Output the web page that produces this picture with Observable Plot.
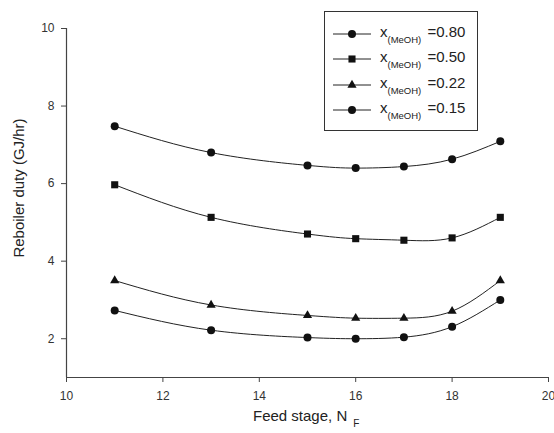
<!DOCTYPE html>
<html>
<head>
<meta charset="utf-8">
<script src="https://cdn.jsdelivr.net/npm/d3@7"></script>
<script src="https://cdn.jsdelivr.net/npm/@observablehq/plot@0.6"></script>
<style>
  html, body { margin: 0; padding: 0; background: #fff; }
  #wrap { position: relative; width: 554px; height: 433px; font-family: Arial, "Liberation Sans", sans-serif; color: #222; }
  #wrap > svg { position: absolute; left: 0; top: 0; }
  .ytitle { position: absolute; left: 18px; top: 188px; transform: translate(-50%, -50%) rotate(-90deg); font-size: 15px; white-space: nowrap; }
  .xtitle { position: absolute; left: 253px; top: 407px; font-size: 15px; white-space: nowrap; }
  .xtitle sub { font-size: 10px; position: relative; top: 6px; left: 6px; vertical-align: baseline; }
  .legend { position: absolute; left: 324px; top: 11px; width: 154px; height: 120px; border: 1px solid #333; background: #fff; box-sizing: border-box; }
  .legend .row { position: absolute; left: 8px; height: 20px; display: flex; align-items: center; font-size: 15px; white-space: nowrap; }
  .legend .row svg { display: block; margin-right: 9px; }
  .legend sub { font-size: 9.5px; vertical-align: -6px; margin-right: 2px; }
</style>
</head>
<body>
<div id="wrap"></div>
<script>
const stages = [11, 13, 15, 16, 17, 18, 19];
const seriesNames = ["0.80", "0.50", "0.22", "0.15"];
const symbols = ["circle", "square", "triangle", "circle"];
const duty080 = [7.48, 6.80, 6.47, 6.40, 6.44, 6.63, 7.09];
const duty050 = [5.97, 5.13, 4.70, 4.58, 4.54, 4.60, 5.13];
const duty022 = [3.50, 2.87, 2.60, 2.53, 2.53, 2.71, 3.50];
const duty015 = [2.73, 2.22, 2.03, 2.00, 2.04, 2.31, 3.00];
const xDomain = [10, 20];
const yDomain = [1, 10];
const xTicks = [10, 12, 14, 16, 18, 20];
const yTicks = [2, 4, 6, 8, 10];

const allDuty = [duty080, duty050, duty022, duty015];
const data = [];
allDuty.forEach((arr, i) => arr.forEach((v, j) => data.push({stage: stages[j], duty: v, series: seriesNames[i], symbol: symbols[i]})));

const symbolR = {circle: 4, square: 4, triangle: 3.4};
const plot = Plot.plot({
  width: 554,
  height: 433,
  marginLeft: 66,
  marginRight: 6,
  marginTop: 28,
  marginBottom: 56,
  style: {fontFamily: 'Arial, "Liberation Sans", sans-serif', fontSize: "12px", background: "#fff"},
  x: {domain: xDomain, ticks: xTicks, label: null},
  y: {domain: yDomain, ticks: yTicks, label: null},
  r: {type: "identity"},
  symbol: {domain: ["circle", "square", "triangle"], range: ["circle", "square", "triangle"]},
  marks: [
    Plot.ruleX([xDomain[0]], {stroke: "#444", strokeWidth: 1.2}),
    Plot.ruleY([yDomain[0]], {stroke: "#444", strokeWidth: 1.2}),
    Plot.line(data, {x: "stage", y: "duty", z: "series", curve: "natural", stroke: "#222", strokeWidth: 1}),
    Plot.dot(data, {x: "stage", y: "duty", symbol: "symbol", fill: "#111", stroke: "none", r: d => symbolR[d.symbol]}),
    Plot.axisX({ticks: xTicks, tickSize: 5, tickPadding: 9, stroke: "#444", fill: "#333", label: null}),
    Plot.axisY({ticks: yTicks, tickSize: 5, tickPadding: 7, stroke: "#444", fill: "#333", label: null})
  ]
});

const wrap = document.getElementById("wrap");
wrap.appendChild(plot);

const yt = document.createElement("div");
yt.className = "ytitle";
yt.textContent = "Reboiler duty (GJ/hr)";
wrap.appendChild(yt);

const xt = document.createElement("div");
xt.className = "xtitle";
xt.innerHTML = "Feed stage, N<sub>F</sub>";
wrap.appendChild(xt);

const legend = document.createElement("div");
legend.className = "legend";
const symbolPaths = {
  circle: d3.symbol(d3.symbolCircle, Math.PI * 16)(),
  square: d3.symbol(d3.symbolSquare, Math.PI * 16)(),
  triangle: d3.symbol(d3.symbolTriangle, Math.PI * 3.4 * 3.4)()
};
seriesNames.forEach((name, i) => {
  const row = document.createElement("div");
  row.className = "row";
  row.style.top = (12 + i * 25.4) + "px";
  row.innerHTML = `<svg width="38" height="14"><line x1="0" x2="38" y1="7" y2="7" stroke="#222" stroke-width="1"/><path d="${symbolPaths[symbols[i]]}" transform="translate(19,7)" fill="#111"/></svg><span>x<sub>(MeOH)</sub> =${name}</span>`;
  legend.appendChild(row);
});
wrap.appendChild(legend);
</script>
</body>
</html>
